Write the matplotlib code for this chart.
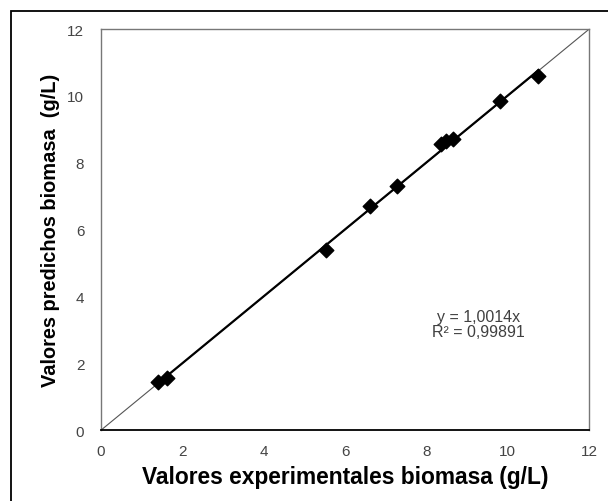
import numpy as np
import matplotlib
matplotlib.use("Agg")
import matplotlib.pyplot as plt
from matplotlib.patches import Rectangle

plt.rcParams['font.family'] = ['Liberation Sans', 'DejaVu Sans']

# Experimental vs predicted biomass (g/L)
experimental = [1.40, 1.62, 5.54, 6.62, 7.28, 8.36, 8.47, 8.66, 9.80, 10.75]
predicted = [1.45, 1.57, 5.40, 6.70, 7.30, 8.56, 8.66, 8.72, 9.86, 10.60]
slope = 1.0014
r2_text = "R² = 0,99891"
eq_text = "y = 1,0014x"
ticks = [0, 2, 4, 6, 8, 10, 12]

fig = plt.figure(figsize=(6.08, 5.02), dpi=100)
ax = fig.add_axes([0.166, 0.141, 0.803, 0.799])

# outer frame around the whole chart
fig.patches.append(Rectangle((0.018, -0.05), 1.2, 1.026, transform=fig.transFigure,
                             fill=False, edgecolor='black', linewidth=1.3))

# identity line
ax.plot([0, 12], [0, 12], color='#555555', linewidth=0.8, zorder=2)
# fitted trend line through the origin
xs = np.array([min(experimental), max(experimental)])
ax.plot(xs, slope * xs, color='black', linewidth=1.6, zorder=3)
ax.scatter(experimental, predicted, marker='D', s=55, color='black', zorder=4)

ax.set_xlim(0, 12)
ax.set_ylim(0, 12)
ax.set_xticks(ticks)
ax.set_yticks(ticks)
ax.tick_params(length=0, labelsize=11, labelcolor='#444444')
ax.tick_params(axis='x', pad=10)
ax.tick_params(axis='y', pad=12)

for side in ['top', 'right', 'left']:
    ax.spines[side].set_color('#777777')
    ax.spines[side].set_linewidth(1.0)
ax.spines['bottom'].set_color('black')
ax.spines['bottom'].set_linewidth(1.3)

ax.set_xlabel('Valores experimentales biomasa (g/L)', fontsize=16.4, fontweight='bold', labelpad=5)
ax.set_ylabel('Valores predichos biomasa  (g/L)', fontsize=14.4, fontweight='bold', labelpad=5)

ax.text(9.27, 3.17, eq_text + "\n" + r2_text, ha='center', va='center', fontsize=11.5,
        color='#404040', linespacing=1.0)

fig.savefig('out.png', dpi=100)
